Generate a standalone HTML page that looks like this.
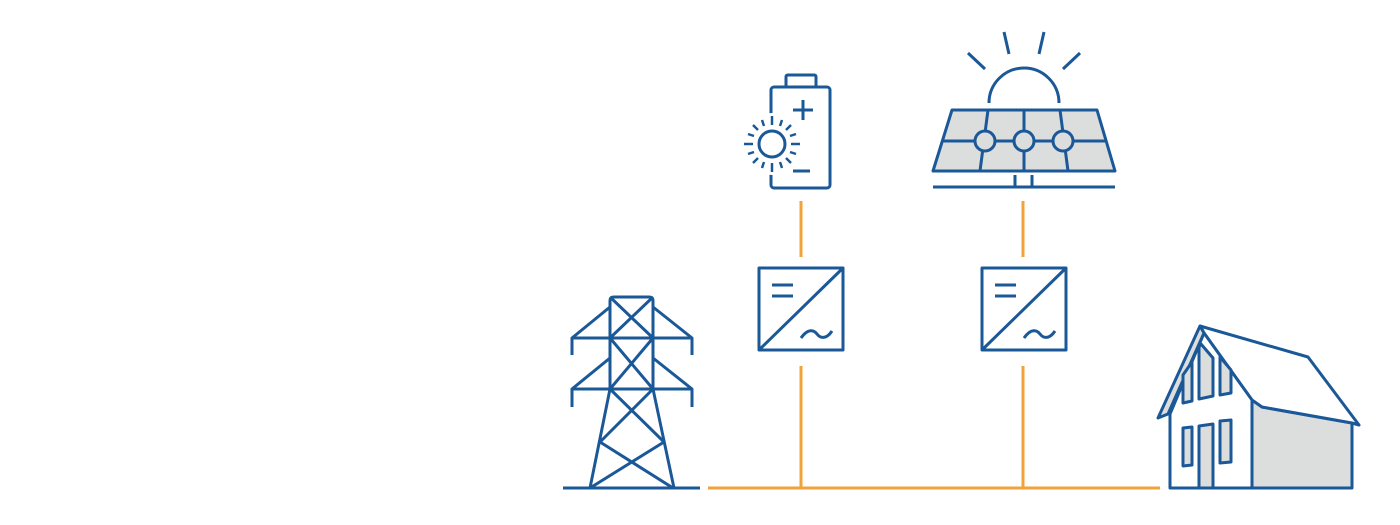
<!DOCTYPE html>
<html><head><style>html,body{margin:0;padding:0;background:#fff;}svg{display:block;}</style></head>
<body>
<svg width="1400" height="525" viewBox="0 0 1400 525" xmlns="http://www.w3.org/2000/svg">
<g fill="none" stroke="#f2a23a" stroke-width="3">
<line x1="708" y1="488" x2="1160" y2="488"/>
<line x1="801" y1="201" x2="801" y2="257"/>
<line x1="801" y1="366" x2="801" y2="488"/>
<line x1="1023" y1="201" x2="1023" y2="257"/>
<line x1="1023" y1="366" x2="1023" y2="488"/>
</g>
<g fill="none" stroke="#1b5898" stroke-width="3" stroke-linejoin="round">
<line x1="563" y1="488" x2="700" y2="488"/>
<path d="M610,390 V301 Q610,297 614,297 H649 Q653,297 653,301 V390"/>
<path d="M610,297 L653,338 M653,297 L610,338 M610,338 L653,389 M653,338 L610,389"/>
<path d="M610,307 L572,338 H692 L653,307 M572,338 V355 M692,338 V355"/>
<path d="M610,358 L572,389 H692 L653,358 M572,389 V407 M692,389 V407"/>
<path d="M610,389 L590,488 M653,389 L674,488"/>
<path d="M610,389 L664,442 M653,389 L600,442 M600,442 L673,488 M664,442 L590,488"/>
<rect x="759" y="268" width="84" height="82"/>
<line x1="759" y1="350" x2="843" y2="268"/>
<path d="M772,285 H793 M772,296 H793"/>
<path d="M801,338 C808,328 814,330 817,334 C820,338 826,340 832,331"/>
<rect x="982" y="268" width="84" height="82"/>
<line x1="982" y1="350" x2="1066" y2="268"/>
<path d="M995,285 H1016 M995,296 H1016"/>
<path d="M1024,338 C1031,328 1037,330 1040,334 C1043,338 1049,340 1055,331"/>
<path d="M786,87 V77 Q786,75 788,75 H814 Q816,75 816,77 V87"/>
<rect x="771" y="87" width="59" height="101" rx="3"/>
</g>
<circle cx="772" cy="144" r="31" fill="#fff"/>
<g fill="none" stroke="#1b5898" stroke-width="3" stroke-linecap="butt">
<path d="M803,100 V120 M793,110 H813 M793,171 H810"/>
<circle cx="772" cy="144" r="13"/>
<g stroke-width="2.5">
<path d="M772,125 V116 M772,163 V172 M753,144 H744 M791,144 H800"/>
<path d="M758,130 L753,125 M786,130 L791,125 M758,158 L753,163 M786,158 L791,163"/>
<path d="M764,126 L762,120 M780,126 L782,120 M764,162 L762,168 M780,162 L782,168"/>
<path d="M754,136 L748,134 M790,136 L796,134 M754,152 L748,154 M790,152 L796,154"/>
</g>
</g>
<polygon points="952,110 1097,110 1115,171 933,171" fill="#dcdddd" stroke="#1b5898" stroke-width="3" stroke-linejoin="round"/>
<g fill="none" stroke="#1b5898" stroke-width="3">
<path d="M943,141 H1106"/>
<path d="M988,110 L980,171 M1024,110 V171 M1060,110 L1068,171"/>
<path d="M989,103 A35,35 0 0 1 1059,103"/>
<path d="M968,53 L985,69 M1004,32 L1009,54 M1044,32 L1039,54 M1080,53 L1063,69"/>
<path d="M1015,175 V187 M1032,175 V187 M933,187 H1115"/>
</g>
<g fill="#dcdddd" stroke="#1b5898" stroke-width="3">
<circle cx="985" cy="141" r="10"/><circle cx="1024" cy="141" r="10"/><circle cx="1063" cy="141" r="10"/>
</g>
<g stroke="#1b5898" stroke-width="3" stroke-linejoin="round">
<polygon points="1252,400 1262,407 1352,423 1352,488 1252,488" fill="#dcdddd"/>
<polygon points="1200,326 1308,357 1359,425 1352,423 1262,407 1252,400 1204,333" fill="#fff"/>
<polygon points="1170,488 1170,414 1204,333 1252,400 1252,488" fill="#fff"/>
<polygon points="1200,326 1204,333 1168,414 1158,418" fill="#dcdddd"/>
<polygon points="1183,375 1192,362 1192,401 1183,403" fill="#dcdddd"/>
<polygon points="1199,347 1201,344 1213,358 1213,396 1199,399" fill="#dcdddd"/>
<polygon points="1220,357 1231,370 1231,393 1220,395" fill="#dcdddd"/>
<polygon points="1183,428 1192,427 1192,465 1183,466" fill="#dcdddd"/>
<polygon points="1199,426 1213,424 1213,488 1199,488" fill="#dcdddd"/>
<polygon points="1220,421 1231,420 1231,462 1220,463" fill="#dcdddd"/>
</g>
</svg>
</body></html>
